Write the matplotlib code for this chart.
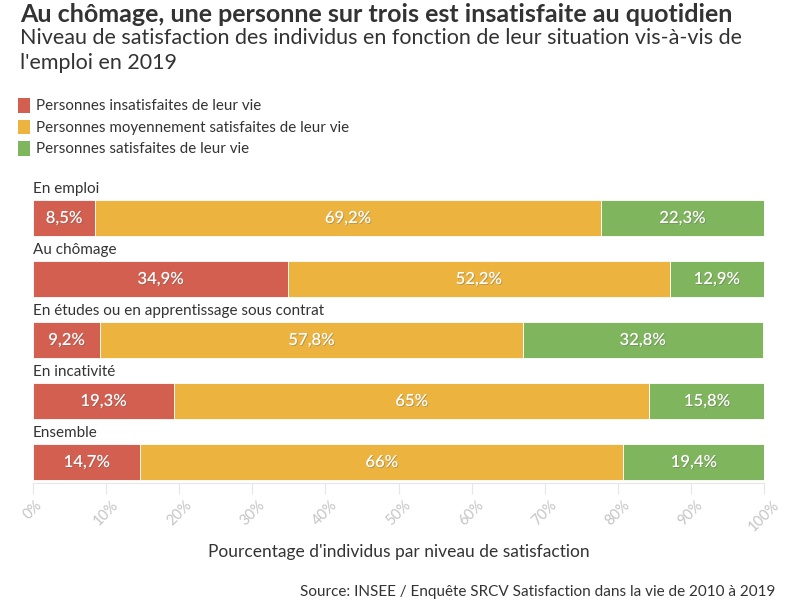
import matplotlib.pyplot as plt
from matplotlib.patches import Patch
import matplotlib.patheffects as pe

plt.rcParams['font.family'] = ['Lato', 'DejaVu Sans']

categories = ['En emploi', 'Au chômage', 'En études ou en apprentissage sous contrat',
              'En incativité', 'Ensemble']
insatisfaits = [8.5, 34.9, 9.2, 19.3, 14.7]
moyens = [69.2, 52.2, 57.8, 65, 66]
satisfaits = [22.3, 12.9, 32.8, 15.8, 19.4]
series_names = ['Personnes insatisfaites de leur vie',
                'Personnes moyennement satisfaites de leur vie',
                'Personnes satisfaites de leur vie']
colors = ['#d35f50', '#ecb33f', '#7fb55d']
ticks = list(range(0, 101, 10))

fig = plt.figure(figsize=(8, 6), dpi=100)
ax = fig.add_axes([33 / 800, 1 - 483 / 600, 731 / 800, 298 / 600])

txtcol = '#333333'
h = 0.59
for i, cat in enumerate(categories):
    left = 0
    for vals, col in zip([insatisfaits, moyens, satisfaits], colors):
        v = vals[i]
        ax.barh(i, v, left=left, height=h, color=col, edgecolor='white', linewidth=0.6)
        lab = ('%g' % v).replace('.', ',') + '%'
        ax.text(left + v / 2, i, lab, ha='center', va='center', color='white',
                fontsize=12, fontweight='semibold',
                path_effects=[pe.withSimplePatchShadow(offset=(0.6, -0.6),
                                                       shadow_rgbFace='#555555', alpha=0.35)])
        left += v
    ax.text(0, i - h / 2 - 0.06, cat, ha='left', va='bottom', fontsize=11, color=txtcol)

ax.set_xlim(0, 100)
ax.set_ylim(4 + 21 / 61, -33 / 61)
ax.set_yticks([])
for s in ['top', 'left', 'right']:
    ax.spines[s].set_visible(False)
ax.spines['bottom'].set_color('#e6e6e6')
ax.set_xticks(ticks)
ax.set_xticklabels(['%d%%' % t for t in ticks], rotation=45, ha='center', va='top',
                   color='#c4c4c4', fontsize=10.5)
ax.tick_params(axis='x', color='#e6e6e6', length=8, pad=3)
ax.set_xlabel("Pourcentage d'individus par niveau de satisfaction", fontsize=12.5,
              color=txtcol, labelpad=7)

fig.text(20 / 800, 1 - 3 / 600, 'Au chômage, une personne sur trois est insatisfaite au quotidien',
         fontsize=18, fontweight='bold', color=txtcol, va='top')
fig.text(20 / 800, 1 - 28 / 600,
         "Niveau de satisfaction des individus en fonction de leur situation vis-à-vis de\nl'emploi en 2019",
         fontsize=15.5, color=txtcol, va='top', linespacing=1.3)

handles = [Patch(facecolor=c, edgecolor='none') for c in colors]
leg = fig.legend(handles, series_names, loc='upper left', bbox_to_anchor=(12 / 800, 1 - 92 / 600),
                 frameon=False, fontsize=10.9, handlelength=0.8, handleheight=1.1,
                 handletextpad=0.4, labelspacing=0.4, borderaxespad=0)
for t in leg.get_texts():
    t.set_color(txtcol)

fig.text(775 / 800, 1 - 599 / 600,
         'Source: INSEE / Enquête SRCV Satisfaction dans la vie de 2010 à 2019',
         fontsize=11, color=txtcol, ha='right', va='bottom')

fig.savefig('out.png', dpi=100)
